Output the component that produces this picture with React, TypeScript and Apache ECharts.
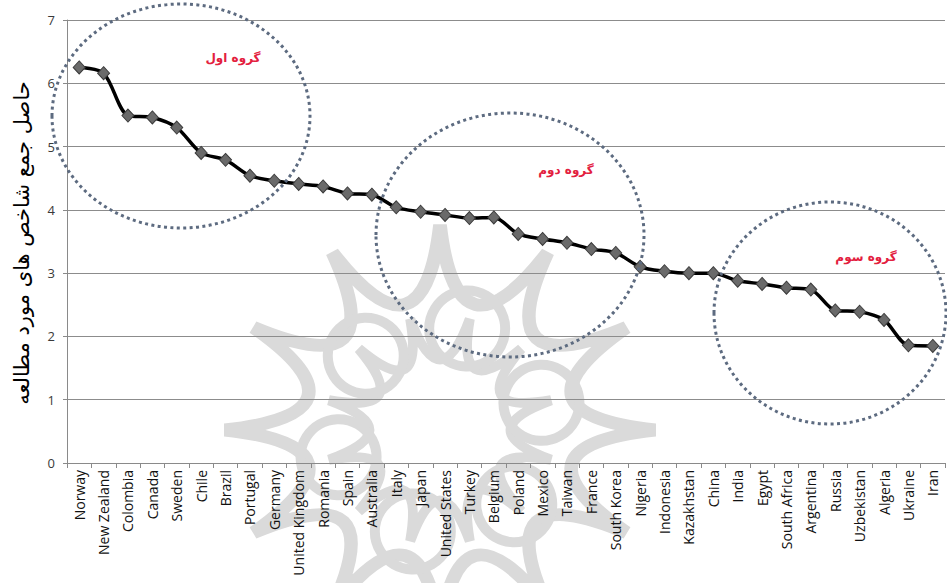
import React, { useEffect, useRef } from "react";
import * as echarts from "echarts";

const countries = [
  "Norway", "New Zealand", "Colombia", "Canada", "Sweden", "Chile", "Brazil", "Portugal",
  "Germany", "United Kingdom", "Romania", "Spain", "Australia", "Italy", "Japan",
  "United States", "Turkey", "Belgium", "Poland", "Mexico", "Taiwan", "France",
  "South Korea", "Nigeria", "Indonesia", "Kazakhstan", "China", "India", "Egypt",
  "South Africa", "Argentina", "Russia", "Uzbekistan", "Algeria", "Ukraine", "Iran",
];

const scores = [
  6.25, 6.16, 5.49, 5.46, 5.3, 4.9, 4.79, 4.54,
  4.46, 4.41, 4.37, 4.26, 4.24, 4.04, 3.97,
  3.92, 3.87, 3.88, 3.62, 3.54, 3.48, 3.38,
  3.32, 3.1, 3.03, 3.0, 3.0, 2.88, 2.83,
  2.77, 2.74, 2.41, 2.39, 2.26, 1.86, 1.85,
];

const yTicks = [0, 1, 2, 3, 4, 5, 6, 7];

const yTitle = "حاصل جمع شاخص های مورد مطالعه";
const groupLabels = ["گروه اول", "گروه دوم", "گروه سوم"];

// decorative watermark rosette (background ornament, not data)
function starPath(points: number, R: number, rc: number, offsetDeg: number) {
  const step = (2 * Math.PI) / points;
  const off = (offsetDeg * Math.PI) / 180;
  let d = "";
  for (let i = 0; i < points; i++) {
    const a = off + i * step;
    const b = off + (i + 1) * step;
    const m = (a + b) / 2;
    const tx = R * Math.cos(a);
    const ty = R * Math.sin(a);
    if (i === 0) d += `M${tx.toFixed(1)} ${ty.toFixed(1)}`;
    const cx = rc * Math.cos(m);
    const cy = rc * Math.sin(m);
    const nx = R * Math.cos(b);
    const ny = R * Math.sin(b);
    d += ` Q${cx.toFixed(1)} ${cy.toFixed(1)} ${nx.toFixed(1)} ${ny.toFixed(1)}`;
  }
  return d + " Z";
}

export default function App() {
  const ref = useRef<HTMLDivElement>(null);
  useEffect(() => {
    if (!ref.current) return;
    echarts.graphic.registerShape(
      "wmStar",
      echarts.graphic.extendPath(starPath(12, 205, 62, -90), {}) as any
    );
    echarts.graphic.registerShape(
      "wmStarInner",
      echarts.graphic.extendPath(starPath(12, 115, 30, -75), {}) as any
    );
    const chart = echarts.init(ref.current, null, { renderer: "svg" });
    const dotted = {
      fill: "none",
      stroke: "#5d6b80",
      lineWidth: 3,
      lineDash: [3, 3.4],
    };
    const wmColor = "#dadada";
    const rings = [15, 75, 135, 195, 255, 315].map((deg) => {
      const a = (deg * Math.PI) / 180;
      return {
        type: "circle",
        shape: { cx: 440 + 105 * Math.cos(a), cy: 430 - 105 * Math.sin(a), r: 38 },
        style: { fill: "none", stroke: wmColor, lineWidth: 10 },
        z: -5,
        silent: true,
      };
    });
    const labelStyle = (text: string) => ({
      text,
      fill: "#e3203e",
      fontSize: 12,
      fontWeight: "bold",
      fontFamily: "DejaVu Sans, sans-serif",
      align: "center",
      verticalAlign: "middle",
    });
    chart.setOption({
      animation: false,
      backgroundColor: "#ffffff",
      grid: { left: 67, right: 2, top: 20, bottom: 120, containLabel: false },
      xAxis: {
        type: "category",
        data: countries,
        boundaryGap: true,
        axisLine: { show: true, lineStyle: { color: "#8a8a8a", width: 1 } },
        axisTick: { show: true, alignWithLabel: false, length: 5, lineStyle: { color: "#8a8a8a" } },
        axisLabel: {
          rotate: 90,
          interval: 0,
          margin: 7,
          color: "#111",
          fontSize: 14,
          fontFamily: "Open Sans, Liberation Sans, sans-serif",
        },
        splitLine: { show: false },
      },
      yAxis: {
        type: "value",
        min: yTicks[0],
        max: yTicks[yTicks.length - 1],
        interval: 1,
        axisLine: { show: true, lineStyle: { color: "#8a8a8a", width: 1 } },
        axisTick: { show: true, length: 4, lineStyle: { color: "#8a8a8a" } },
        axisLabel: {
          color: "#3a3a3a",
          fontSize: 13,
          margin: 12,
          fontFamily: "Open Sans, Liberation Sans, sans-serif",
        },
        splitLine: { show: true, lineStyle: { color: "#8c8c8c", width: 1 } },
      },
      series: [
        {
          type: "line",
          data: scores,
          smooth: 0.3,
          symbol: "diamond",
          symbolSize: [12, 13],
          lineStyle: { color: "#000", width: 3.5 },
          itemStyle: { color: "#6a6a6a", borderColor: "#3c3c3c", borderWidth: 1 },
          z: 5,
        },
      ],
      graphic: [
        {
          type: "wmStar",
          x: 440,
          y: 430,
          scaleX: 1.05,
          scaleY: 1,
          style: { fill: "none", stroke: wmColor, lineWidth: 13 },
          z: -5,
          silent: true,
        },
        {
          type: "wmStarInner",
          x: 440,
          y: 430,
          style: { fill: "none", stroke: wmColor, lineWidth: 10 },
          z: -5,
          silent: true,
        },
        ...rings,
        {
          type: "text",
          x: 22,
          y: 243,
          rotation: Math.PI / 2,
          style: {
            text: yTitle,
            fill: "#000",
            fontSize: 21,
            fontFamily: "DejaVu Sans, Noto Sans, sans-serif",
            align: "center",
            verticalAlign: "middle",
          },
        },
        { type: "ellipse", shape: { cx: 181, cy: 116, rx: 129, ry: 112 }, style: dotted, z: 10 },
        { type: "ellipse", shape: { cx: 510, cy: 235, rx: 134, ry: 122 }, style: dotted, z: 10 },
        { type: "ellipse", shape: { cx: 830, cy: 313, rx: 116, ry: 111 }, style: dotted, z: 10 },
        { type: "text", x: 233, y: 58, style: labelStyle(groupLabels[0]), z: 11 },
        { type: "text", x: 566, y: 170, style: labelStyle(groupLabels[1]), z: 11 },
        { type: "text", x: 866, y: 257, style: labelStyle(groupLabels[2]), z: 11 },
      ],
    });
    return () => chart.dispose();
  }, []);
  return (
    <div
      ref={ref}
      style={{ position: "fixed", left: 0, top: 0, width: 947, height: 583, background: "#fff" }}
    />
  );
}
